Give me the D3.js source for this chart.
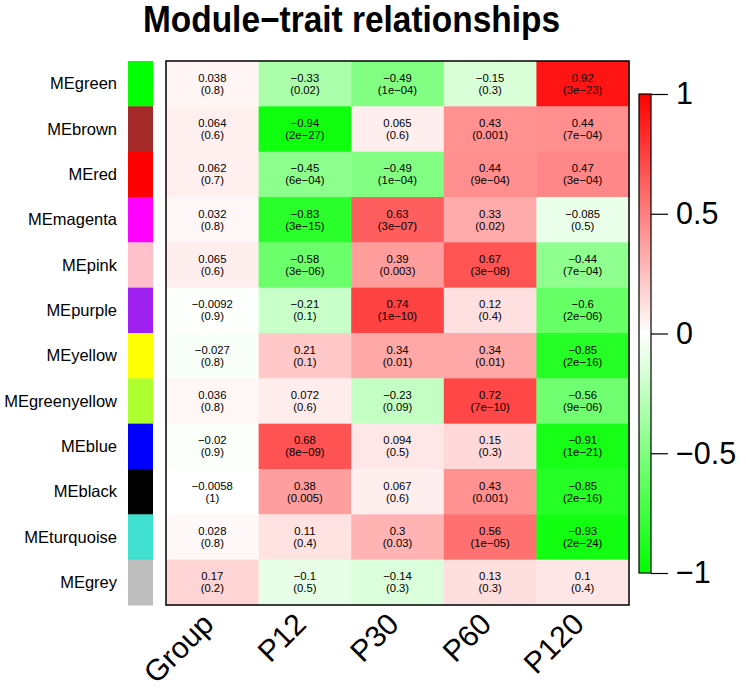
<!DOCTYPE html>
<html>
<head>
<meta charset="utf-8">
<script src="https://cdn.jsdelivr.net/npm/d3@7"></script>
<style>
  html, body { margin: 0; padding: 0; background: #fff; }
  svg { display: block; font-family: "Liberation Sans", Arial, Helvetica, sans-serif; }
</style>
</head>
<body>
<svg id="chart" width="746" height="689"></svg>
<script>
const modules = ["MEgreen","MEbrown","MEred","MEmagenta","MEpink","MEpurple","MEyellow","MEgreenyellow","MEblue","MEblack","MEturquoise","MEgrey"];
const moduleColors = ["#00FF00","#A52A2A","#FF0000","#FF00FF","#FFC0CB","#A020F0","#FFFF00","#ADFF2F","#0000FF","#000000","#40E0D0","#BEBEBE"];
const traits = ["Group","P12","P30","P60","P120"];
// correlations, rows = modules, cols = traits
const corValues = [
  [0.038, -0.33, -0.49, -0.15, 0.92],
  [0.064, -0.94, 0.065, 0.43, 0.44],
  [0.062, -0.45, -0.49, 0.44, 0.47],
  [0.032, -0.83, 0.63, 0.33, -0.085],
  [0.065, -0.58, 0.39, 0.67, -0.44],
  [-0.0092, -0.21, 0.74, 0.12, -0.6],
  [-0.027, 0.21, 0.34, 0.34, -0.85],
  [0.036, 0.072, -0.23, 0.72, -0.56],
  [-0.02, 0.68, 0.094, 0.15, -0.91],
  [-0.0058, 0.38, 0.067, 0.43, -0.85],
  [0.028, 0.11, 0.3, 0.56, -0.93],
  [0.17, -0.1, -0.14, 0.13, 0.1]
];
const pLabels = [
  ["0.8","0.02","1e-04","0.3","3e-23"],
  ["0.6","2e-27","0.6","0.001","7e-04"],
  ["0.7","6e-04","1e-04","9e-04","3e-04"],
  ["0.8","3e-15","3e-07","0.02","0.5"],
  ["0.6","3e-06","0.003","3e-08","7e-04"],
  ["0.9","0.1","1e-10","0.4","2e-06"],
  ["0.8","0.1","0.01","0.01","2e-16"],
  ["0.8","0.6","0.09","7e-10","9e-06"],
  ["0.9","8e-09","0.5","0.3","1e-21"],
  ["1","0.005","0.6","0.001","2e-16"],
  ["0.8","0.4","0.03","1e-05","2e-24"],
  ["0.2","0.5","0.3","0.3","0.4"]
];
const legendTicks = [1, 0.5, 0, -0.5, -1];
const titleText = "Module\u2212trait relationships";

const minus = s => String(s).replace(/-/g, "\u2212");

const svg = d3.select("#chart");

const gridLeft = 166, gridRight = 629, gridTop = 61, gridBottom = 605;

const x = d3.scaleBand().domain(traits).range([gridLeft, gridRight]);
const y = d3.scaleBand().domain(modules).range([gridTop, gridBottom]);
const color = d3.scaleLinear().domain([-1, 0, 1]).range(["#00FF00", "#FFFFFF", "#FF0000"]).interpolate(d3.interpolateRgb).clamp(true);

// Title
svg.append("text")
  .attr("x", 351.5).attr("y", 32)
  .attr("text-anchor", "middle")
  .attr("font-weight", "bold")
  .attr("font-size", 36)
  .attr("textLength", 417)
  .attr("lengthAdjust", "spacingAndGlyphs")
  .text(titleText);

// cells
const cells = [];
modules.forEach((m, i) => traits.forEach((t, j) => cells.push({m, t, v: corValues[i][j], p: pLabels[i][j]})));

svg.append("g").selectAll("rect").data(cells).join("rect")
  .attr("x", d => x(d.t))
  .attr("y", d => y(d.m))
  .attr("width", x.bandwidth() + 0.5)
  .attr("height", y.bandwidth() + 0.5)
  .attr("fill", d => color(d.v));

const txt = svg.append("g").attr("font-size", 11.3).attr("text-anchor", "middle").attr("fill", "#000");
txt.selectAll("text.v").data(cells).join("text").attr("class", "v")
  .attr("x", d => x(d.t) + x.bandwidth() / 2)
  .attr("y", d => y(d.m) + y.bandwidth() / 2 - 2)
  .text(d => minus(d.v));
txt.selectAll("text.p").data(cells).join("text").attr("class", "p")
  .attr("x", d => x(d.t) + x.bandwidth() / 2)
  .attr("y", d => y(d.m) + y.bandwidth() / 2 + 10)
  .text(d => "(" + minus(d.p) + ")");

// frame
svg.append("rect")
  .attr("x", gridLeft).attr("y", gridTop)
  .attr("width", gridRight - gridLeft).attr("height", gridBottom - gridTop)
  .attr("fill", "none").attr("stroke", "#000").attr("stroke-width", 1.5);

// module colour strip
svg.append("g").selectAll("rect").data(modules).join("rect")
  .attr("x", 128).attr("width", 25)
  .attr("y", d => y(d)).attr("height", y.bandwidth() + 0.5)
  .attr("fill", (d, i) => moduleColors[i]);

// row labels
svg.append("g").attr("font-size", 16.5).attr("text-anchor", "end")
  .selectAll("text").data(modules).join("text")
  .attr("x", 117)
  .attr("y", d => y(d) + y.bandwidth() / 2)
  .attr("dy", "0.35em")
  .text(d => d);

// column labels
svg.append("g").attr("font-size", 30).attr("text-anchor", "end")
  .selectAll("text").data(traits).join("text")
  .attr("transform", d => `translate(${x(d) + x.bandwidth() / 2 + 3},626) rotate(-45)`)
  .text(d => d);

// colour bar
const cbTop = 94, cbBottom = 573, cbLeft = 639, cbRight = 651;
const cy = d3.scaleLinear().domain([-1, 1]).range([cbBottom, cbTop]);
const defs = svg.append("defs");
const grad = defs.append("linearGradient").attr("id", "cbgrad")
  .attr("x1", 0).attr("y1", 1).attr("x2", 0).attr("y2", 0);
grad.selectAll("stop").data([-1, 0, 1]).join("stop")
  .attr("offset", d => (d + 1) / 2)
  .attr("stop-color", d => color(d));
svg.append("rect")
  .attr("x", cbLeft).attr("y", cy(1))
  .attr("width", cbRight - cbLeft).attr("height", cy(-1) - cy(1))
  .attr("fill", "url(#cbgrad)")
  .attr("stroke", "#000").attr("stroke-width", 1.2);

const axis = d3.axisRight(cy).tickValues(legendTicks).tickSize(17).tickPadding(8)
  .tickFormat(d => minus(d3.format("")(d)));
const ag = svg.append("g").attr("transform", `translate(${cbRight},0)`).call(axis);
ag.select(".domain").remove();
ag.selectAll(".tick line").attr("stroke", "#000").attr("stroke-width", 1.2);
ag.selectAll(".tick text").attr("font-size", 30.5).attr("fill", "#000")
  .attr("font-family", "'Liberation Sans', Arial, sans-serif");
</script>
</body>
</html>
